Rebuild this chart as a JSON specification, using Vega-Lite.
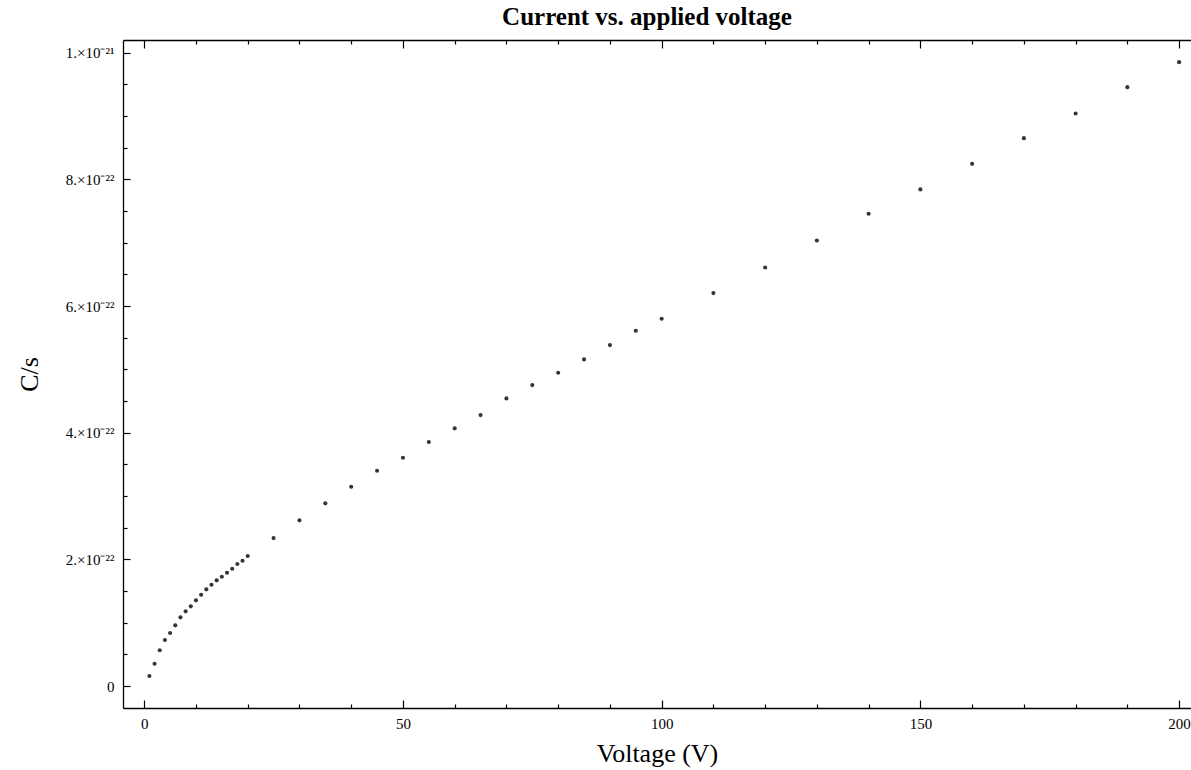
{
  "$schema": "https://vega.github.io/schema/vega-lite/v6.json",
  "width": 1068,
  "height": 668,
  "autosize": {"type": "none"},
  "padding": {"left": 123, "top": 40, "right": 0, "bottom": 62},
  "background": "white",
  "title": {
    "text": "Current vs. applied voltage",
    "font": "Liberation Serif",
    "fontSize": 25,
    "fontWeight": "bold",
    "color": "black",
    "anchor": "middle",
    "offset": 9,
    "dx": -10
  },
  "config": {
    "view": {"stroke": null},
    "axis": {
      "domainColor": "black",
      "domainWidth": 1.3,
      "tickColor": "black",
      "tickWidth": 1.2,
      "grid": false,
      "labelFont": "Liberation Serif",
      "labelFontSize": 15,
      "labelColor": "black",
      "titleFont": "Liberation Serif",
      "titleFontSize": 26,
      "titleFontWeight": "normal",
      "titleColor": "black"
    }
  },
  "data": {
    "values": [
      {"V": 1, "I": 1.58e-23},
      {"V": 2, "I": 3.52e-23},
      {"V": 3, "I": 5.64e-23},
      {"V": 4, "I": 7.26e-23},
      {"V": 5, "I": 8.37e-23},
      {"V": 6, "I": 9.58e-23},
      {"V": 7, "I": 1.084e-22},
      {"V": 8, "I": 1.179e-22},
      {"V": 9, "I": 1.258e-22},
      {"V": 10, "I": 1.353e-22},
      {"V": 11, "I": 1.441e-22},
      {"V": 12, "I": 1.526e-22},
      {"V": 13, "I": 1.599e-22},
      {"V": 14, "I": 1.669e-22},
      {"V": 15, "I": 1.725e-22},
      {"V": 16, "I": 1.788e-22},
      {"V": 17, "I": 1.852e-22},
      {"V": 18, "I": 1.926e-22},
      {"V": 19, "I": 1.978e-22},
      {"V": 20, "I": 2.052e-22},
      {"V": 25, "I": 2.336e-22},
      {"V": 30, "I": 2.616e-22},
      {"V": 35, "I": 2.884e-22},
      {"V": 40, "I": 3.146e-22},
      {"V": 45, "I": 3.399e-22},
      {"V": 50, "I": 3.604e-22},
      {"V": 55, "I": 3.852e-22},
      {"V": 60, "I": 4.068e-22},
      {"V": 65, "I": 4.278e-22},
      {"V": 70, "I": 4.541e-22},
      {"V": 75, "I": 4.751e-22},
      {"V": 80, "I": 4.946e-22},
      {"V": 85, "I": 5.157e-22},
      {"V": 90, "I": 5.383e-22},
      {"V": 95, "I": 5.609e-22},
      {"V": 100, "I": 5.798e-22},
      {"V": 110, "I": 6.204e-22},
      {"V": 120, "I": 6.609e-22},
      {"V": 130, "I": 7.035e-22},
      {"V": 140, "I": 7.456e-22},
      {"V": 150, "I": 7.841e-22},
      {"V": 160, "I": 8.245e-22},
      {"V": 170, "I": 8.650e-22},
      {"V": 180, "I": 9.040e-22},
      {"V": 190, "I": 9.455e-22},
      {"V": 200, "I": 9.850e-22}
    ]
  },
  "layer": [
    {
      "mark": {"type": "point", "filled": true, "size": 17, "color": "#353535", "opacity": 1},
      "encoding": {
        "x": {
          "field": "V",
          "type": "quantitative",
          "scale": {"domain": [-4.1, 202.3], "nice": false, "zero": false},
          "axis": {
            "orient": "bottom",
            "title": "Voltage (V)",
            "titlePadding": 9,
            "values": [0, 10, 20, 30, 40, 50, 60, 70, 80, 90, 100, 110, 120, 130, 140, 150, 160, 170, 180, 190, 200],
            "labelExpr": "datum.value % 50 == 0 ? datum.value : ''",
            "tickSize": {"condition": {"test": "datum.value % 50 == 0", "value": -8}, "value": -4},
            "labelPadding": 16,
            "labelFlush": false
          }
        },
        "y": {
          "field": "I",
          "type": "quantitative",
          "scale": {"domain": [-3.47e-23, 1.02e-21], "nice": false, "zero": false},
          "axis": {
            "orient": "left",
            "title": "C/s",
            "titlePadding": 23,
            "values": [0, 5e-23, 1e-22, 1.5e-22, 2e-22, 2.5e-22, 3e-22, 3.5e-22, 4e-22, 4.5e-22, 5e-22, 5.5e-22, 6e-22, 6.5e-22, 7e-22, 7.5e-22, 8e-22, 8.5e-22, 9e-22, 9.5e-22, 1e-21],
            "labelExpr": "abs(datum.value * 1e22 - round(datum.value * 1e22 / 2) * 2) > 0.01 ? '' : (datum.value == 0 ? '0' : (datum.value > 9.9e-22 ? '1.×10⁻²¹' : round(datum.value * 1e22) + '.×10⁻²²'))",
            "tickSize": {"condition": {"test": "abs(datum.value * 1e22 - round(datum.value * 1e22 / 2) * 2) < 0.01", "value": -7}, "value": -4},
            "labelPadding": 16,
            "labelFlush": false
          }
        }
      }
    },
    {
      "mark": {"type": "point", "opacity": 0},
      "encoding": {
        "x": {
          "field": "V",
          "type": "quantitative",
          "axis": {
            "orient": "top",
            "title": null,
            "labels": false,
            "values": [0, 10, 20, 30, 40, 50, 60, 70, 80, 90, 100, 110, 120, 130, 140, 150, 160, 170, 180, 190, 200],
            "tickSize": {"condition": {"test": "datum.value % 50 == 0", "value": -8}, "value": -4}
          }
        },
        "y": {"field": "I", "type": "quantitative", "axis": null}
      }
    }
  ],
  "resolve": {"axis": {"x": "independent", "y": "independent"}}
}
